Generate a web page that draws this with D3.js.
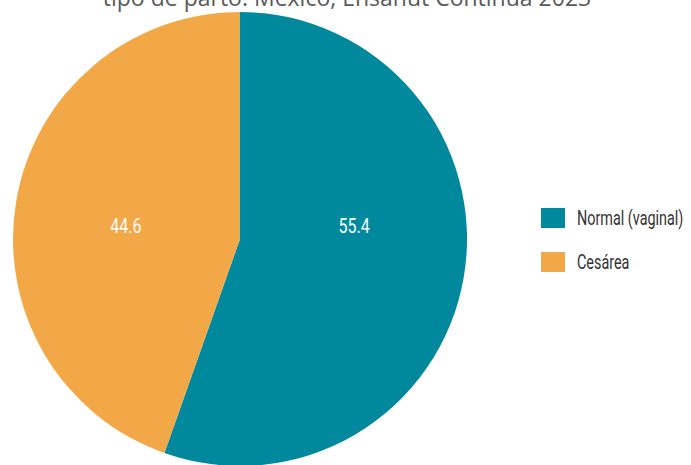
<!DOCTYPE html>
<html>
<head>
<meta charset="utf-8">
<script src="https://cdn.jsdelivr.net/npm/d3@7"></script>
<style>
  html, body { margin: 0; padding: 0; background: #ffffff; }
  svg { display: block; }
</style>
</head>
<body>
<svg id="chart" width="691" height="465"></svg>
<script>
// Distribución porcentual por tipo de parto
const categories = ["Normal (vaginal)", "Cesárea"];
const values = [55.4, 44.6];
const colors = ["#00899c", "#f3a848"];
const titleText = "tipo de parto. México, Ensanut Continua 2023";

const svg = d3.select("#chart");
const cx = 240, cy = 239, radius = 227;

const labelFont = "Roboto, 'Noto Sans', sans-serif";

// Title (first line sits above the visible area)
svg.append("text")
  .attr("x", 347)
  .attr("y", 6)
  .attr("text-anchor", "middle")
  .attr("font-family", "'Open Sans', sans-serif")
  .attr("font-size", 23)
  .attr("fill", "#5a5a5a")
  .text(titleText);

const data = categories.map((c, i) => ({ category: c, value: values[i], color: colors[i] }));

const pie = d3.pie().value(d => d.value).sort(null);
const arc = d3.arc().innerRadius(0).outerRadius(radius);
const labelArc = d3.arc().innerRadius(radius * 0.51).outerRadius(radius * 0.51);

const g = svg.append("g").attr("transform", `translate(${cx},${cy})`);
const arcs = pie(data);

g.selectAll("path.slice")
  .data(arcs)
  .join("path")
  .attr("class", "slice")
  .attr("d", arc)
  .attr("fill", d => d.data.color);

// value labels, horizontally squeezed to a condensed look
g.selectAll("text.value")
  .data(arcs)
  .join("text")
  .attr("class", "value")
  .attr("transform", d => `translate(${labelArc.centroid(d)[0]},-13) scale(0.8,1)`)
  .attr("dy", "0.35em")
  .attr("text-anchor", "middle")
  .attr("font-family", labelFont)
  .attr("font-size", 20)
  .attr("fill", "#ffffff")
  .text(d => d.data.value.toFixed(1));

// Legend
const legend = svg.append("g").attr("transform", "translate(541,208)");
const item = legend.selectAll("g.item")
  .data(data)
  .join("g")
  .attr("class", "item")
  .attr("transform", (d, i) => `translate(0,${i * 44})`);

item.append("rect")
  .attr("width", 24)
  .attr("height", 20)
  .attr("fill", d => d.color);

item.append("text")
  .attr("transform", "translate(36,10) scale(0.72,1)")
  .attr("dy", "0.35em")
  .attr("font-family", labelFont)
  .attr("font-size", 20)
  .attr("fill", "#333333")
  .text(d => d.category);
</script>
</body>
</html>
